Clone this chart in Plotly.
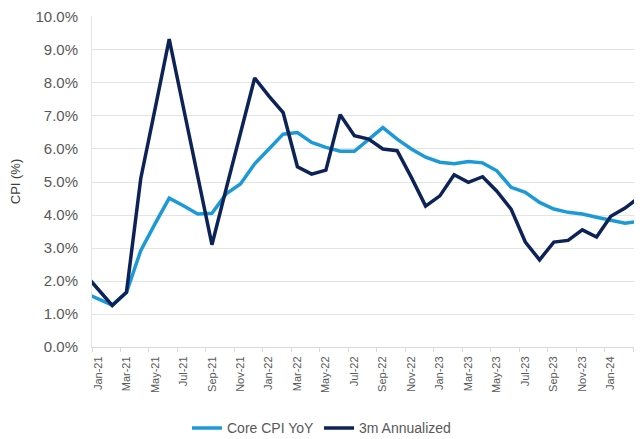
import plotly.graph_objects as go

months = ["Dec-20",
          "Jan-21", "Feb-21", "Mar-21", "Apr-21", "May-21", "Jun-21", "Jul-21", "Aug-21", "Sep-21", "Oct-21", "Nov-21", "Dec-21",
          "Jan-22", "Feb-22", "Mar-22", "Apr-22", "May-22", "Jun-22", "Jul-22", "Aug-22", "Sep-22", "Oct-22", "Nov-22", "Dec-22",
          "Jan-23", "Feb-23", "Mar-23", "Apr-23", "May-23", "Jun-23", "Jul-23", "Aug-23", "Sep-23", "Oct-23", "Nov-23", "Dec-23",
          "Jan-24", "Feb-24", "Mar-24"]

core_cpi_yoy = [1.65,
                1.45, 1.27, 1.65, 2.92, 3.73, 4.51, 4.28, 4.03, 4.05, 4.64, 4.94, 5.55,
                6.0, 6.45, 6.5, 6.2, 6.05, 5.93, 5.93, 6.3, 6.65, 6.3, 6.0, 5.75,
                5.6, 5.55, 5.62, 5.58, 5.34, 4.84, 4.69, 4.38, 4.18, 4.08, 4.03, 3.93,
                3.83, 3.75, 3.81]

annualized_3m = [2.25,
                 1.77, 1.26, 1.66, 5.1, 7.2, 9.33, 7.25, 5.2, 3.1, 4.8, 6.45, 8.15,
                 7.6, 7.1, 5.46, 5.24, 5.36, 7.04, 6.4, 6.3, 6.0, 5.95, 5.14, 4.27,
                 4.58, 5.22, 4.99, 5.16, 4.72, 4.18, 3.18, 2.64, 3.18, 3.23, 3.55, 3.33,
                 3.96, 4.21, 4.54]

y_ticks = [0, 1, 2, 3, 4, 5, 6, 7, 8, 9, 10]

# positions: month index relative to Jan-21
xpos = list(range(-1, len(months) - 1))
label_pos = [xpos[i] for i in range(1, len(months), 2)]
label_txt = [months[i] for i in range(1, len(months), 2)]
offset = -0.42
minor_pos = [p + offset for p in label_pos]

LIGHT = "#1b9ad6"
DARK = "#0d2357"
GRID = "#e4e4e4"
TXT = "#595959"

fig = go.Figure()
fig.add_trace(go.Scatter(x=xpos, y=core_cpi_yoy, mode="lines", name="Core CPI YoY",
                         line=dict(color=LIGHT, width=3.5)))
fig.add_trace(go.Scatter(x=xpos, y=annualized_3m, mode="lines", name="3m Annualized",
                         line=dict(color=DARK, width=3.5)))

# page body has an 8px default margin, so the figure is sized to fit the window
fig.update_layout(
    width=634, height=431,
    margin=dict(l=84, r=1, t=8, b=92, autoexpand=False),
    paper_bgcolor="white", plot_bgcolor="white",
    font=dict(family="Liberation Sans, Arial, sans-serif", color=TXT),
    showlegend=True,
    legend=dict(orientation="h", xref="paper", yref="paper",
                x=0.418, y=-0.246, xanchor="center", yanchor="middle",
                font=dict(size=14, color=TXT), itemwidth=30,
                tracegroupgap=0),
)

fig.update_xaxes(
    range=[offset, 38.12],
    tickmode="array", tickvals=label_pos, ticktext=label_txt,
    tickangle=-90, tickfont=dict(size=11, color=TXT),
    ticks="", showgrid=False, zeroline=False,
    showline=True, linecolor="#d9d9d9", linewidth=1,
    minor=dict(tickmode="array", tickvals=minor_pos, ticks="outside",
               ticklen=4, tickcolor="#d9d9d9", showgrid=False),
    ticklabelstandoff=4, automargin=False, ticklabeloverflow="allow",
)

fig.update_yaxes(
    range=[0, 10.03], tickmode="array", tickvals=y_ticks,
    ticktext=[f"{v:.1f}%" for v in y_ticks],
    tickfont=dict(size=15, color=TXT),
    showgrid=True, gridcolor=GRID, gridwidth=1,
    zeroline=False, showline=True, linecolor="#e4e4e4", linewidth=1,
    ticks="", ticklabelstandoff=10, automargin=False, ticklabeloverflow="allow",
    title=dict(text="CPI (%)", font=dict(size=13, color="#404040"), standoff=22),
)

fig.write_html("out.html")
